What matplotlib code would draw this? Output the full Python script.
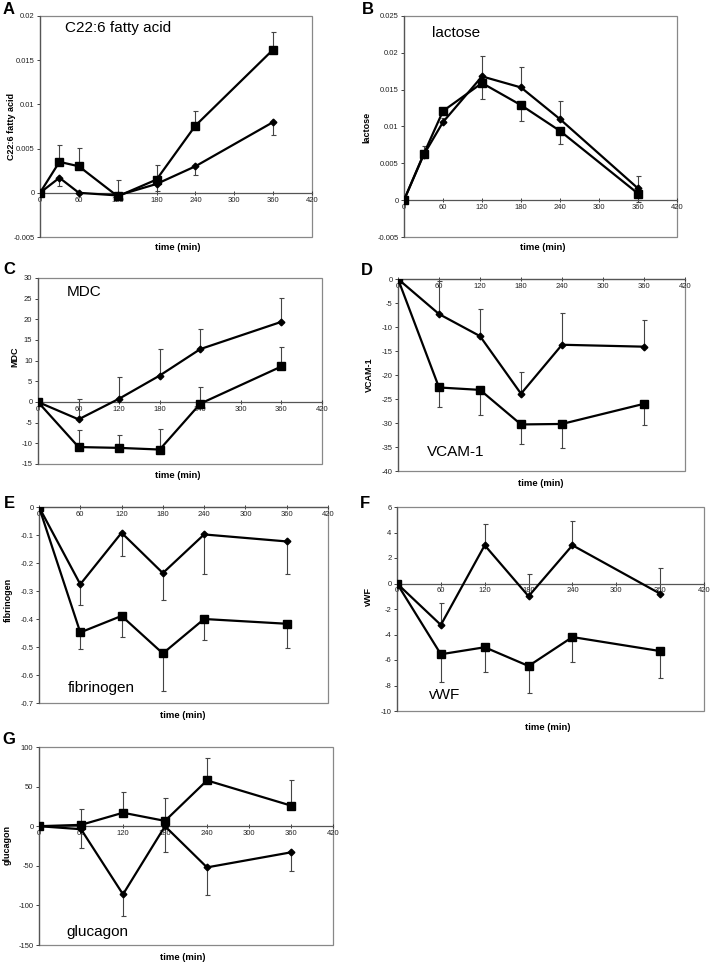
import matplotlib
matplotlib.use("Agg")

import numpy as np
import matplotlib.pyplot as plt
from matplotlib.patches import Rectangle
from matplotlib.ticker import FuncFormatter

plt.rcParams['font.family'] = ['Liberation Sans', 'DejaVu Sans']

W, H = 710, 965   # figure size in pixels

# ── Data ──────────────────────────────────────────────────────────────────────
time7 = [0, 30, 60, 120, 180, 240, 360]
time6 = [0, 60, 120, 180, 240, 360]

# A  C22:6 fatty acid
c22_sq      = [0, 0.0035, 0.0030, -0.0004, 0.0015, 0.0076, 0.0162]
c22_sq_err  = [0, 0.0019, 0.0021, 0.0018, 0.0017, 0.0016, 0.0020]
c22_di      = [0, 0.0017, 0.0000, -0.0003, 0.0010, 0.0030, 0.0080]
c22_di_err  = [0, 0.0009, 0, 0, 0.0008, 0.0010, 0.0015]

# B  lactose
lac_sq      = [0, 0.0062, 0.0121, 0.0159, 0.0129, 0.0094, 0.0009]
lac_sq_err  = [0, 0.0004, 0.0006, 0.0022, 0.0021, 0.0018, 0.0012]
lac_di      = [0, 0.0061, 0.0106, 0.0168, 0.0153, 0.0110, 0.0016]
lac_di_err  = [0, 0.0012, 0.0005, 0.0028, 0.0028, 0.0024, 0.0017]

# C  MDC
mdc_sq      = [0, -10.9, -11.1, -11.5, -0.4, 8.6]
mdc_sq_err  = [0, 4.2, 3.2, 4.9, 4.1, 4.6]
mdc_di      = [0, -4.2, 0.8, 6.4, 12.8, 19.4]
mdc_di_err  = [0, 5.0, 5.2, 6.4, 4.8, 5.7]

# D  VCAM-1
vcam_sq     = [0, -22.6, -23.1, -30.3, -30.2, -26.0]
vcam_sq_err = [0, 4.1, 5.2, 4.1, 5.1, 4.5]
vcam_di     = [0, -7.3, -11.9, -23.9, -13.7, -14.1]
vcam_di_err = [0, 6.8, 5.6, 4.5, 6.6, 5.5]

# E  fibrinogen
fib_sq      = [0, -0.448, -0.389, -0.523, -0.400, -0.417]
fib_sq_err  = [0, 0.058, 0.075, 0.135, 0.076, 0.087]
fib_di      = [0, -0.276, -0.092, -0.236, -0.098, -0.123]
fib_di_err  = [0, 0.073, 0.084, 0.096, 0.142, 0.117]

# F  vWF
vwf_sq      = [0, -5.55, -5.0, -6.47, -4.2, -5.3]
vwf_sq_err  = [0, 2.15, 1.94, 2.13, 1.93, 2.1]
vwf_di      = [0, -3.25, 3.0, -1.0, 3.0, -0.8]
vwf_di_err  = [0, 1.75, 1.7, 1.77, 1.9, 2.04]

# G  glucagon
glu_sq      = [0, 1.7, 17, 6.7, 57.8, 26]
glu_sq_err  = [0, 19.8, 26, 29.3, 28.2, 32.6]
glu_di      = [0, -3.8, -86, 0, -52, -33]
glu_di_err  = [0, 23.2, 27, 32, 34.4, 24]

x_ticks = [0, 60, 120, 180, 240, 300, 360, 420]

# ── Panel layout (pixel boxes: left, top, right, bottom) ─────────────────────
panels = [
    dict(letter="A", box=(40, 16, 312, 237), t=time7,
         sq=(c22_sq, c22_sq_err, "up"), di=(c22_di, c22_di_err, "down"),
         ylim=(-0.005, 0.02), ystep=0.005, ylabel="C22:6 fatty acid",
         title="C22:6 fatty acid", title_xy=(65, 28),
         letter_xy=(9, 9), ylab_xy=(12, 127), xlab_xy=(178, 248)),
    dict(letter="B", box=(404, 16, 677, 237), t=time7,
         sq=(lac_sq, lac_sq_err, "down"), di=(lac_di, lac_di_err, "up"),
         ylim=(-0.005, 0.025), ystep=0.005, ylabel="lactose",
         title="lactose", title_xy=(432, 33),
         letter_xy=(368, 9), ylab_xy=(367, 127), xlab_xy=(543, 248)),
    dict(letter="C", box=(38, 278, 322, 464), t=time6,
         sq=(mdc_sq, mdc_sq_err, "up"), di=(mdc_di, mdc_di_err, "up"),
         ylim=(-15, 30), ystep=5, ylabel="MDC",
         title="MDC", title_xy=(67, 292),
         letter_xy=(9, 269), ylab_xy=(15, 357), xlab_xy=(178, 476)),
    dict(letter="D", box=(398, 279, 685, 471), t=time6,
         sq=(vcam_sq, vcam_sq_err, "down"), di=(vcam_di, vcam_di_err, "up"),
         ylim=(-40, 0), ystep=5, ylabel="VCAM-1",
         title="VCAM-1", title_xy=(427, 452),
         letter_xy=(367, 271), ylab_xy=(369, 375), xlab_xy=(541, 483)),
    dict(letter="E", box=(39, 507, 328, 703), t=time6,
         sq=(fib_sq, fib_sq_err, "down"), di=(fib_di, fib_di_err, "down"),
         ylim=(-0.7, 0), ystep=0.1, ylabel="fibrinogen",
         title="fibrinogen", title_xy=(68, 688),
         letter_xy=(9, 503), ylab_xy=(8, 600), xlab_xy=(183, 715)),
    dict(letter="F", box=(397, 507, 704, 711), t=time6,
         sq=(vwf_sq, vwf_sq_err, "down"), di=(vwf_di, vwf_di_err, "up"),
         ylim=(-10, 6), ystep=2, ylabel="vWF",
         title="vWF", title_xy=(429, 695),
         letter_xy=(365, 503), ylab_xy=(368, 597), xlab_xy=(548, 727)),
    dict(letter="G", box=(39, 747, 333, 945), t=time6,
         sq=(glu_sq, glu_sq_err, "up"), di=(glu_di, glu_di_err, "down"),
         ylim=(-150, 100), ystep=50, ylabel="glucagon",
         title="glucagon", title_xy=(66, 932),
         letter_xy=(9, 740), ylab_xy=(7, 845), xlab_xy=(183, 958)),
]


def fx(px):
    return px / W


def fy(py):
    return 1 - py / H


def fmt(v, pos):
    v = round(v, 6)
    if v == 0:
        return "0"
    return "%g" % v


fig = plt.figure(figsize=(W / 100, H / 100), dpi=100)

for p in panels:
    l, t, r, b = p["box"]
    ax = fig.add_axes([fx(l), fy(b), (r - l) / W, (b - t) / H])

    for key, marker, ms in [("sq", "s", 5.2), ("di", "D", 3.4)]:
        vals, err, direction = p[key]
        vals = np.array(vals, dtype=float)
        err = np.array(err, dtype=float)
        zero = np.zeros_like(err)
        yerr = [zero, err] if direction == "up" else [err, zero]
        ax.errorbar(p["t"], vals, yerr=yerr, fmt="none", ecolor="#444444",
                    elinewidth=0.8, capsize=1.8, capthick=0.8, zorder=2)
        ax.plot(p["t"], vals, color="black", lw=1.6, marker=marker,
                ms=ms, mfc="black", mec="black", zorder=3)

    ax.set_xlim(0, 420)
    ax.set_ylim(*p["ylim"])
    ax.set_xticks(x_ticks)
    lo, hi = p["ylim"]
    ax.set_yticks(np.arange(lo, hi + p["ystep"] / 2, p["ystep"]))
    ax.yaxis.set_major_formatter(FuncFormatter(fmt))

    # Excel-like frame: grey box, x axis drawn at zero
    for s in ["top", "right"]:
        ax.spines[s].set_visible(False)
    ax.spines["bottom"].set_position(("data", 0))
    ax.spines["bottom"].set_color("#555555")
    ax.spines["bottom"].set_linewidth(0.9)
    ax.spines["left"].set_color("#555555")
    ax.spines["left"].set_linewidth(0.9)
    ax.add_patch(Rectangle((0, 0), 1, 1, transform=ax.transAxes, fill=False,
                           edgecolor="#888888", lw=0.9, clip_on=False, zorder=1))

    ax.tick_params(axis="x", direction="inout", length=2.5, width=0.6,
                   labelsize=5.5, pad=1.5, colors="#222222")
    ax.tick_params(axis="y", direction="out", length=2.5, width=0.6,
                   labelsize=5.5, pad=1.5, colors="#222222")

    fig.text(fx(p["letter_xy"][0]), fy(p["letter_xy"][1]), p["letter"],
             fontsize=12, fontweight="bold", ha="center", va="center")
    fig.text(fx(p["ylab_xy"][0]), fy(p["ylab_xy"][1]), p["ylabel"],
             fontsize=6.5, fontweight="bold", rotation=90,
             ha="center", va="center")
    fig.text(fx(p["xlab_xy"][0]), fy(p["xlab_xy"][1]), "time (min)",
             fontsize=6.8, fontweight="bold", ha="center", va="center")
    fig.text(fx(p["title_xy"][0]), fy(p["title_xy"][1]), p["title"],
             fontsize=11, ha="left", va="center")

fig.savefig("out.png", dpi=100)
